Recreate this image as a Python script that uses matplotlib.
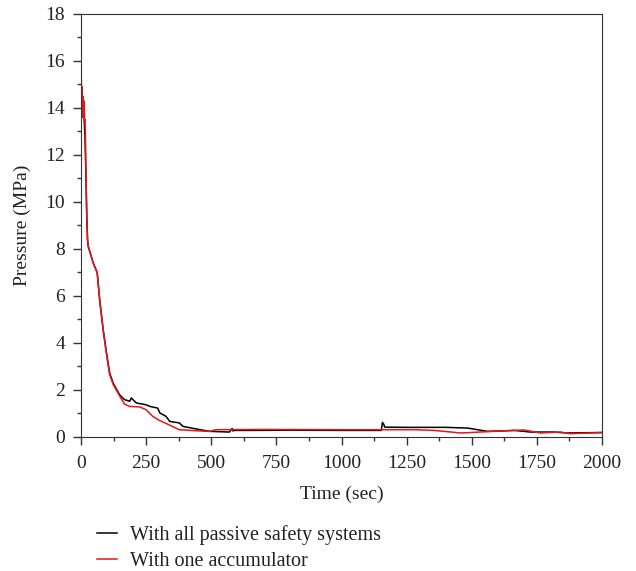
import matplotlib.pyplot as plt
import numpy as np

plt.rcParams['font.family'] = ['Liberation Serif', 'DejaVu Serif']

# with all passive safety systems (black)
t_all = [0, 3, 6, 9, 12, 15, 18, 22, 25, 28, 47, 62, 72, 85, 98, 110, 123, 148, 167,
         187, 193, 212, 250, 265, 294, 303, 326, 341, 377, 392, 443, 493, 570, 580, 583,
         590, 650, 800, 1000, 1153, 1157, 1162, 1166, 1250, 1400, 1484, 1560, 1620, 1663,
         1726, 1815, 1866, 1930, 2000]
p_all = [14.8, 14.2, 13.7, 14.3, 13.5, 12.8, 11.5, 9.5, 8.4, 8.1, 7.4, 7.0, 5.8, 4.56,
         3.57, 2.72, 2.3, 1.8, 1.59, 1.52, 1.66, 1.45, 1.37, 1.3, 1.23, 1.02, 0.88, 0.66,
         0.6, 0.45, 0.34, 0.24, 0.21, 0.36, 0.26, 0.28, 0.28, 0.29, 0.28, 0.28, 0.62,
         0.55, 0.42, 0.41, 0.41, 0.38, 0.24, 0.26, 0.28, 0.21, 0.21, 0.17, 0.18, 0.19]

# with one accumulator (red)
t_one = [0, 2, 4, 6, 8, 10, 12, 14, 16, 18, 20, 22, 25, 28, 47, 62, 72, 85, 98, 110,
         123, 148, 167, 187, 225, 250, 275, 300, 351, 377, 450, 493, 519, 700, 1000,
         1280, 1356, 1458, 1585, 1663, 1700, 1764, 1840, 1878, 2000]
p_one = [15.8, 14.6, 14.9, 13.6, 14.5, 13.8, 14.3, 13.3, 13.5, 12.0, 10.5, 9.3, 8.4,
         8.1, 7.4, 7.0, 5.8, 4.56, 3.5, 2.65, 2.25, 1.75, 1.4, 1.3, 1.28, 1.16, 0.88,
         0.71, 0.45, 0.31, 0.26, 0.24, 0.31, 0.32, 0.31, 0.31, 0.28, 0.17, 0.24, 0.28,
         0.3, 0.17, 0.21, 0.14, 0.19]

x_ticks = [0, 250, 500, 750, 1000, 1250, 1500, 1750, 2000]
y_ticks = [0, 2, 4, 6, 8, 10, 12, 14, 16, 18]

fig = plt.figure(figsize=(6.36, 5.71), dpi=100)
ax = fig.add_axes([0.1274, 0.2347, 0.8191, 0.7408])

l1, = ax.plot(t_all, p_all, color='black', lw=1.1, label='With all passive safety systems')
l2, = ax.plot(t_one, p_one, color='#e8141b', lw=1.1, label='With one accumulator')

ax.set_xlim(0, 2000)
ax.set_ylim(0, 18)
ax.set_xticks(x_ticks)
ax.set_yticks(y_ticks)
ax.set_xticks(np.arange(125, 2000, 250), minor=True)
ax.set_yticks(np.arange(1, 18, 2), minor=True)
ax.tick_params(which='both', direction='out', top=False, right=False, labelsize=14,
               color='#333333', labelcolor='#222222', width=1.0)
ax.tick_params(which='major', length=5.5)
ax.tick_params(which='minor', length=3)
ax.tick_params(axis='y', which='major', pad=6)
ax.tick_params(axis='x', which='major', pad=7.5)
for s in ax.spines.values():
    s.set_color('#333333')
ax.set_xlabel('Time (sec)', fontsize=14, labelpad=10, color='#222222')
ax.set_ylabel('Pressure (MPa)', fontsize=14, labelpad=10, color='#222222')

fig.legend(handles=[l1, l2], loc='upper left', bbox_to_anchor=(0.1525, 0.081),
           frameon=False, fontsize=14.5, handlelength=1.0, handletextpad=0.65,
           labelspacing=0.35, borderaxespad=0, borderpad=0, labelcolor='#222222')

fig.savefig('out.png', dpi=100)
